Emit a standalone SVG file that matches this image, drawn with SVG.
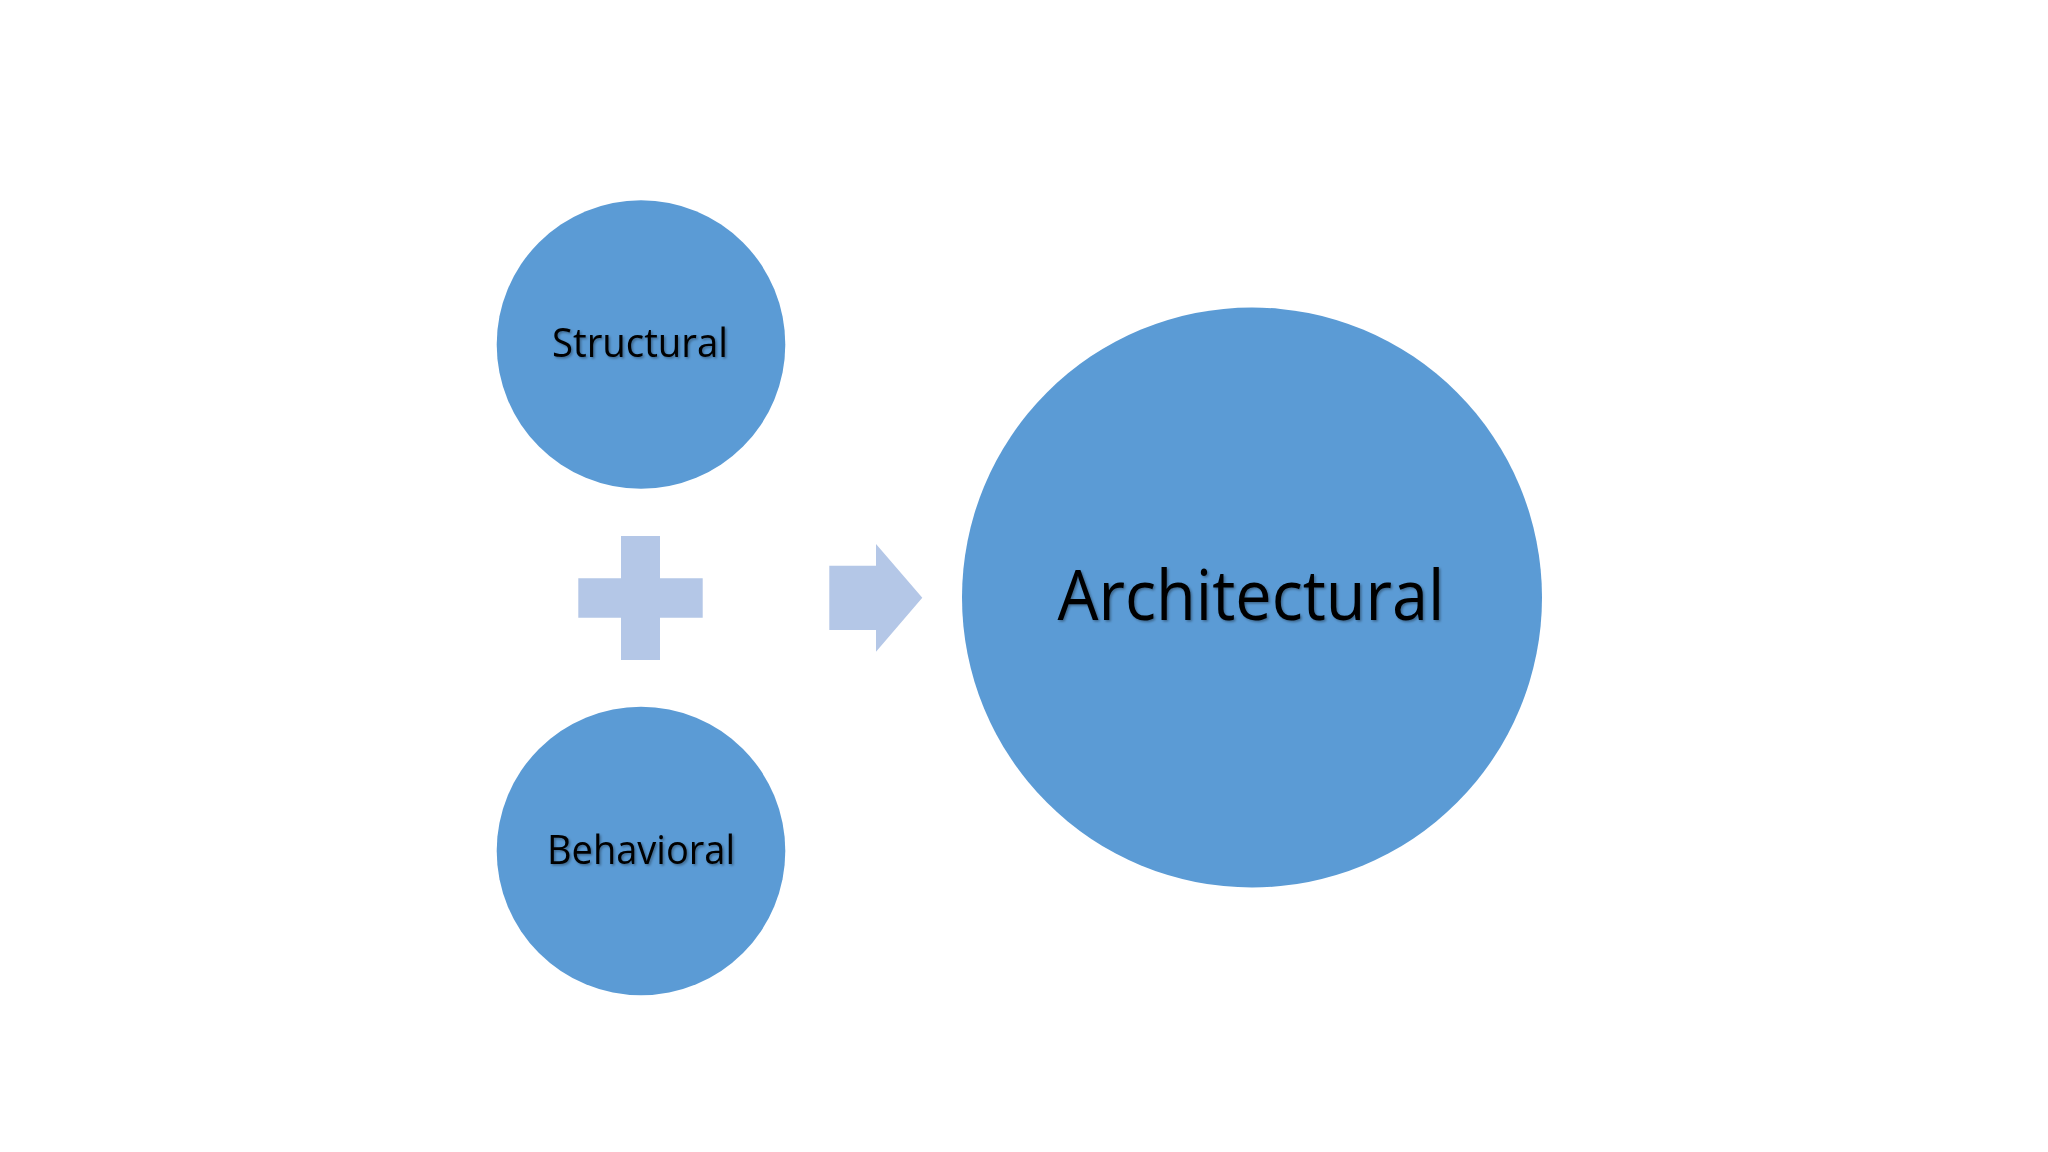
<svg xmlns="http://www.w3.org/2000/svg" width="2048" height="1152" viewBox="0 0 2048 1152">
  <style>
    .node { fill: #5B9BD5; }
    .sym { fill: #B4C7E7; }
    .lbl { font-family: "Open Sans", "Noto Sans", "Liberation Sans", sans-serif; fill: #000000; text-anchor: middle; filter: url(#shadow); }
  </style>
  <defs>
    <filter id="shadow" x="-10%" y="-30%" width="120%" height="160%">
      <feDropShadow dx="1.5" dy="1.5" stdDeviation="1" flood-color="#000000" flood-opacity="0.35"/>
    </filter>
  </defs>
  <rect x="0" y="0" width="2048" height="1152" fill="#FFFFFF"/>
  <g id="node-structural">
    <circle class="node" cx="641" cy="344.5" r="144.3"/>
    <text class="lbl" x="640" y="356.7" font-size="40" textLength="176" lengthAdjust="spacingAndGlyphs">Structural</text>
  </g>
  <g id="node-behavioral">
    <circle class="node" cx="641" cy="851" r="144.3"/>
    <text class="lbl" x="641" y="864" font-size="40" textLength="188" lengthAdjust="spacingAndGlyphs">Behavioral</text>
  </g>
  <g id="node-architectural">
    <circle class="node" cx="1252" cy="597.5" r="290"/>
    <text class="lbl" x="1251" y="620.2" font-size="69" textLength="387" lengthAdjust="spacingAndGlyphs">Architectural</text>
  </g>
  <g id="connectors">
    <path id="plus" class="sym" d="M621,536 H660 V578.3 H702.7 V617.7 H660 V660 H621 V617.7 H578.3 V578.3 H621 Z"/>
    <path id="arrow" class="sym" d="M829.3,565.7 H876 V544 L922.3,597.8 L876,651.7 V630 H829.3 Z"/>
  </g>
</svg>
